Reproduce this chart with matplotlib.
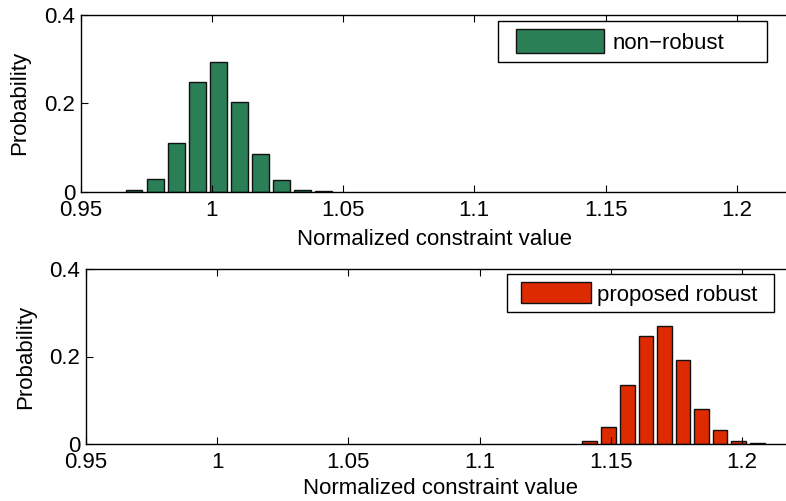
import matplotlib.pyplot as plt
from matplotlib.patches import Rectangle

plt.rcParams['font.family'] = ['Liberation Sans', 'DejaVu Sans']
plt.rcParams['font.size'] = 16

# histogram bin centres and probabilities
nonrobust_x = [0.9703, 0.9784, 0.9864, 0.9944, 1.0024, 1.0104, 1.0184, 1.0264, 1.0344, 1.0424]
nonrobust_p = [0.004, 0.028, 0.111, 0.249, 0.294, 0.202, 0.085, 0.026, 0.0045, 0.0015]

robust_x = [1.1420, 1.1492, 1.1562, 1.1634, 1.1704, 1.1775, 1.1846, 1.1916, 1.1988, 1.2058]
robust_p = [0.006, 0.040, 0.136, 0.248, 0.270, 0.193, 0.081, 0.032, 0.0076, 0.002]

xticks = [0.95, 1.0, 1.05, 1.1, 1.15, 1.2]
xtick_labels = ['0.95', '1', '1.05', '1.1', '1.15', '1.2']
yticks = [0, 0.2, 0.4]
ytick_labels = ['0', '0.2', '0.4']

green = '#2a7f56'
red = '#dd2a00'

W, H = 786, 501
fig = plt.figure(figsize=(W / 100, H / 100), dpi=100)


def make_axes(left, top, bottom):
    # pixel box -> figure fraction; right edge runs past the figure
    width = (1.22 - 0.95) / 0.05 * 131.2
    return fig.add_axes([left / W, 1 - bottom / H, width / W, (bottom - top) / H])


def style(ax, xpad):
    ax.set_xlim(0.95, 1.22)
    ax.set_ylim(0, 0.4)
    ax.set_xticks(xticks)
    ax.set_xticklabels(xtick_labels)
    ax.set_yticks(yticks)
    ax.set_yticklabels(ytick_labels)
    ax.tick_params(direction='in', length=5, width=0.8, top=True, right=False)
    ax.tick_params(axis='x', pad=6)
    ax.tick_params(axis='y', pad=4)
    for s in ax.spines.values():
        s.set_linewidth(1.0)
    ax.set_xlabel('Normalized constraint value', labelpad=xpad)
    ax.set_ylabel('Probability', labelpad=10)


def legend_box(x0, y0, x1, y1, px0, py0, px1, py1, tx, color, label):
    # matlab-style legend, drawn in figure pixels
    tr = fig.transFigure
    fig.patches.append(Rectangle((x0 / W, 1 - y1 / H), (x1 - x0) / W, (y1 - y0) / H,
                                 transform=tr, facecolor='white', edgecolor='black', linewidth=1.0, zorder=5))
    fig.patches.append(Rectangle((px0 / W, 1 - py1 / H), (px1 - px0) / W, (py1 - py0) / H,
                                 transform=tr, facecolor=color, edgecolor='#111111', linewidth=1.0, zorder=6))
    fig.text(tx / W, 1 - (py0 + py1) / 2 / H, label, ha='left', va='center_baseline', zorder=7)


ax1 = make_axes(80.7, 15, 191.7)
ax1.bar(nonrobust_x, nonrobust_p, width=0.0064, color=green, edgecolor='#111111', linewidth=1.0)
style(ax1, 6)
legend_box(498, 21, 767, 62, 516, 29, 604, 53, 613, green, 'non\u2212robust')

ax2 = make_axes(86, 269, 444)
ax2.bar(robust_x, robust_p, width=0.00567, color=red, edgecolor='#111111', linewidth=1.0)
style(ax2, 3)
legend_box(507, 274, 774, 312, 521, 282, 591, 303, 597, red, 'proposed robust')

fig.savefig('out.png', dpi=100)
